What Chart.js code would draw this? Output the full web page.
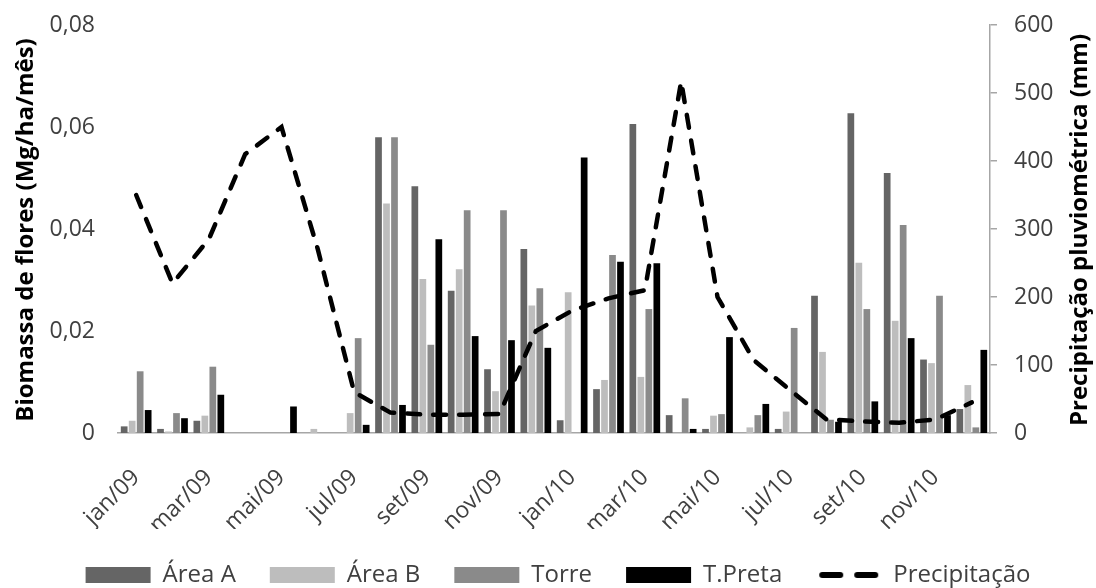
<!DOCTYPE html>
<html>
<head>
<meta charset="utf-8">
<script src="https://cdn.jsdelivr.net/npm/chart.js@4.4.1/dist/chart.umd.min.js"></script>
<style>
html,body{margin:0;padding:0;background:#fff;}
#wrap{width:1096px;height:588px;position:relative;}
</style>
</head>
<body>
<div id="wrap"><canvas id="c" width="1096" height="588"></canvas></div>
<script>
const months = ["jan/09","fev/09","mar/09","abr/09","mai/09","jun/09","jul/09","ago/09","set/09","out/09","nov/09","dez/09",
                "jan/10","fev/10","mar/10","abr/10","mai/10","jun/10","jul/10","ago/10","set/10","out/10","nov/10","dez/10"];
const areaA  = [0.0013,0.0008,0.0024,0,0,0,0,0.058,0.0484,0.0279,0.0125,0.0361,0.0025,0.0086,0.0606,0.0035,0.0008,0,0.0008,0.0269,0.0627,0.051,0.0144,0.0047];
const areaB  = [0.0024,0.0003,0.0034,0,0,0.0008,0.0039,0.045,0.0302,0.0321,0.0082,0.025,0.0276,0.0104,0.011,0,0.0034,0.0011,0.0042,0.0159,0.0334,0.022,0.0137,0.0094];
const torre  = [0.0121,0.0039,0.013,0,0,0,0.0186,0.058,0.0173,0.0437,0.0437,0.0284,0,0.0349,0.0243,0.0068,0.0037,0.0035,0.0206,0.0026,0.0243,0.0408,0.0269,0.0011];
const tPreta = [0.0045,0.0029,0.0075,0,0.0052,0,0.0016,0.0055,0.038,0.019,0.0182,0.0167,0.054,0.0336,0.0333,0.0008,0.0188,0.0057,0,0.0022,0.0062,0.0186,0.0035,0.0163];
const precip = [350,220,285,410,450,270,60,30,27,27,28,150,180,198,210,517,200,107,63,20,17,15,20,45];
const leftTicks = [0,0.02,0.04,0.06,0.08];
const rightTicks = [0,100,200,300,400,500,600];
const leftTitle = "Biomassa de flores (Mg/ha/mês)";
const rightTitleText = "Precipitação pluviométrica (mm)";

const FONT = "'Open Sans', sans-serif";
const AXIS_GRAY = "#a6a6a6";
const TEXT = "#404040";

// legend sample for the dashed line
const dashIcon = document.createElement('canvas');
dashIcon.width = 65; dashIcon.height = 16;
(function () {
  const g = dashIcon.getContext('2d');
  g.strokeStyle = '#000'; g.lineWidth = 6; g.lineCap = 'round';
  g.beginPath(); g.moveTo(6, 8); g.lineTo(24, 8); g.moveTo(41, 8); g.lineTo(59, 8); g.stroke();
})();

const axisTitles = {
  id: 'axisTitles',
  afterDraw(chart) {
    const ctx = chart.ctx, a = chart.chartArea;
    const cy = (a.top + a.bottom) / 2;
    [[leftTitle, 26], [rightTitleText, 1080]].forEach(([txt, x]) => {
      ctx.save();
      ctx.font = "bold 24px " + FONT;
      ctx.fillStyle = "#000";
      ctx.textAlign = "center";
      ctx.textBaseline = "middle";
      ctx.translate(x, cy + 1);
      ctx.rotate(-Math.PI / 2);
      ctx.fillText(txt, 0, 0);
      ctx.restore();
    });
  }
};

function barSet(label, data, color) {
  return { type: 'bar', label, data, backgroundColor: color, borderWidth: 0,
           yAxisID: 'y', categoryPercentage: 0.88, barPercentage: 0.84, pointStyle: 'rect', order: 2 };
}

new Chart(document.getElementById('c'), {
  data: {
    labels: months,
    datasets: [
      barSet("Área A", areaA, "#656565"),
      barSet("Área B", areaB, "#bdbdbd"),
      barSet("Torre", torre, "#8a8a8a"),
      barSet("T.Preta", tPreta, "#000000"),
      { type: 'line', label: "Precipitação", data: precip, yAxisID: 'y1', borderColor: "#000",
        backgroundColor: "#000", borderWidth: 4.5, borderDash: [13, 13], borderCapStyle: 'round',
        tension: 0, pointRadius: 0, pointHoverRadius: 0, pointStyle: dashIcon, fill: false, order: 1 }
    ]
  },
  options: {
    responsive: false,
    animation: false,
    layout: { padding: { top: 25, left: 20, right: 0, bottom: -9 } },
    plugins: {
      tooltip: { enabled: false },
      legend: {
        position: 'bottom',
        labels: { usePointStyle: true, pointStyleWidth: 65, boxHeight: 16, boxWidth: 65,
                  font: { family: FONT, size: 24 }, color: TEXT, padding: 34,
                  sort: (a, b) => a.datasetIndex - b.datasetIndex }
      }
    },
    scales: {
      x: {
        grid: { display: false },
        border: { display: true, color: AXIS_GRAY, width: 1.5 },
        ticks: { autoSkip: false, maxRotation: 45, minRotation: 45, padding: 23,
                 font: { family: FONT, size: 23 }, color: TEXT,
                 callback: (v, i) => (i % 2 === 0 ? months[i] : '') },
        afterFit: s => { s.height = 96; s.paddingLeft = 0; s.paddingRight = 0; }
      },
      y: {
        position: 'left', min: 0, max: 0.08,
        grid: { display: false }, border: { display: false },
        afterBuildTicks: s => { s.ticks = leftTicks.map(v => ({ value: v })); },
        ticks: { padding: 15, font: { family: FONT, size: 23 }, color: TEXT,
                 callback: v => (v === 0 ? '0' : v.toFixed(2).replace('.', ',')) },
        afterFit: s => { s.width = 98; s.paddingTop = 0; s.paddingBottom = 0; }
      },
      y1: {
        position: 'right', min: 0, max: 600,
        grid: { display: true, drawOnChartArea: false, tickLength: 7, color: AXIS_GRAY, lineWidth: 1.5 },
        border: { display: true, color: AXIS_GRAY, width: 1.5 },
        afterBuildTicks: s => { s.ticks = rightTicks.map(v => ({ value: v })); },
        ticks: { padding: 17, font: { family: FONT, size: 23 }, color: TEXT },
        afterFit: s => { s.width = 106; s.paddingTop = 0; s.paddingBottom = 0; }
      }
    }
  },
  plugins: [axisTitles]
});
</script>
</body>
</html>
